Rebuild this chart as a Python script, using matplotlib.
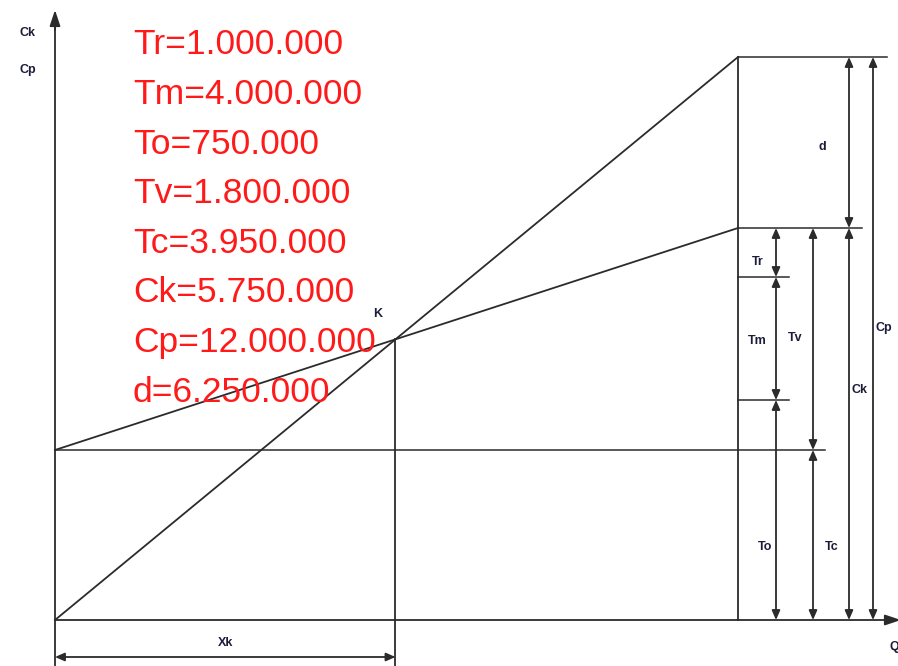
import matplotlib
matplotlib.use("Agg")
import matplotlib.pyplot as plt

# parameter values printed in the upper-left block
names = ["Tr", "Tm", "To", "Tv", "Tc", "Ck", "Cp", "d"]
values = [1000000, 4000000, 750000, 1800000, 3950000, 5750000, 12000000, 6250000]

# schematic geometry of the break-even diagram (drawing units)
q_max = 683
level_fixed = 170   # To level, start of cost line
level_tm = 220      # lower edge of Tm
level_tr = 343      # lower edge of Tr
level_ck = 392      # total cost at q_max
level_cp = 563      # revenue at q_max

# x positions of the dimension columns
col_tr, col_tv, col_ck, col_cp = 721, 758, 794, 818

LC = "#2b2b2b"
TC = "#1c1c3a"


def fmt(v):
    return f"{v:,}".replace(",", ".")


def dim(ax, x0, y0, x1, y1):
    ax.annotate("", xy=(x1, y1), xytext=(x0, y0), annotation_clip=False,
                arrowprops=dict(arrowstyle="<|-|>,head_length=0.8,head_width=0.35",
                                mutation_scale=7, color=LC, lw=1.3,
                                shrinkA=0, shrinkB=0))


def axis_arrow(ax, x0, y0, x1, y1):
    ax.annotate("", xy=(x1, y1), xytext=(x0, y0), annotation_clip=False,
                arrowprops=dict(arrowstyle="-|>,head_length=1.2,head_width=0.4",
                                mutation_scale=8, color=LC, lw=1.3,
                                shrinkA=0, shrinkB=0))


fig = plt.figure(figsize=(8.98, 6.66), dpi=100)
ax = fig.add_axes([0, 0, 1, 1])
ax.set_xlim(-55, 843)
ax.set_ylim(-46, 620)
ax.axis("off")

# axes with arrows
ax.plot([0, 0], [-46, 600], color=LC, lw=1.3)
axis_arrow(ax, 0, 590, 0, 610)
axis_arrow(ax, 0, 0, 846, 0)

# cost and revenue lines, break-even point K
slope_c = (level_ck - level_fixed) / q_max
slope_r = level_cp / q_max
q_k = level_fixed / (slope_r - slope_c)
y_k = slope_r * q_k
ax.plot([0, q_max], [level_fixed, level_ck], color=LC, lw=1.3)
ax.plot([0, q_max], [0, level_cp], color=LC, lw=1.3)
ax.plot([q_k, q_k], [-46, y_k], color=LC, lw=1.3)
ax.plot([q_max, q_max], [0, level_cp], color=LC, lw=1.3)

# horizontal reference lines
ax.plot([0, col_tv + 12], [level_fixed, level_fixed], color=LC, lw=1.1)
ax.plot([q_max, col_cp + 14], [level_cp, level_cp], color=LC, lw=1.1)
ax.plot([q_max, col_ck + 13], [level_ck, level_ck], color=LC, lw=1.1)
ax.plot([q_max, col_tr + 13], [level_tr, level_tr], color=LC, lw=1.1)
ax.plot([q_max, col_tr + 13], [level_tm, level_tm], color=LC, lw=1.1)

# dimension arrows
dim(ax, col_tr, level_tr, col_tr, level_ck)
dim(ax, col_tr, level_tm, col_tr, level_tr)
dim(ax, col_tr, 0, col_tr, level_tm)
dim(ax, col_tv, level_fixed, col_tv, level_ck)
dim(ax, col_tv, 0, col_tv, level_fixed)
dim(ax, col_ck, level_ck, col_ck, level_cp)
dim(ax, col_ck, 0, col_ck, level_ck)
dim(ax, col_cp, 0, col_cp, level_cp)
dim(ax, 0, -37, q_k, -37)

# small labels
small = dict(fontsize=9, fontweight="bold", color=TC, family="Liberation Sans",
             ha="center", va="center")
ax.text(767, 473, "d", **small)
ax.text(703, 358, "Tr", **small)
ax.text(702, 279, "Tm", **small)
ax.text(740, 282, "Tv", **small)
ax.text(829, 292, "Cp", **small)
ax.text(805, 230, "Ck", **small)
ax.text(710, 73, "To", **small)
ax.text(777, 73, "Tc", **small)
ax.text(q_k - 18, y_k + 25, "K", **small)
ax.text(q_k / 2, -23, "Xk", **small)
ax.text(-27, 587, "Ck", **small)
ax.text(-27, 550, "Cp", **small)
ax.text(835, -27, "Q", fontsize=9, fontweight="bold", color=TC,
        family="Liberation Sans", ha="left", va="center")

# parameter block
for i, (n, v) in enumerate(zip(names, values)):
    ax.text(78, 575 - i * 49.6, f"{n}={fmt(v)}", fontsize=25.5, color="#ff1a1a",
            family="Liberation Sans", ha="left", va="center")

fig.savefig("out.png", dpi=100)
